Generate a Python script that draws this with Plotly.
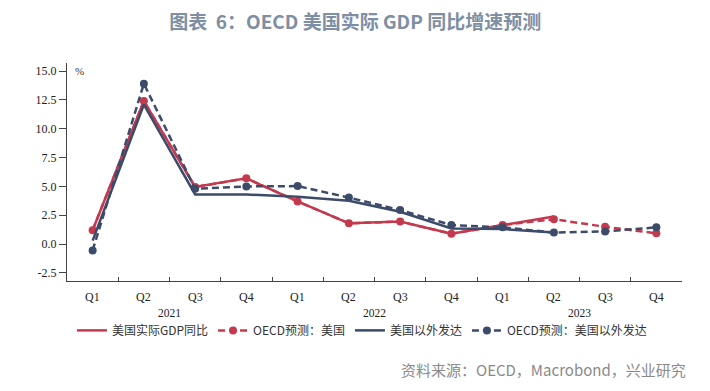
import plotly.graph_objects as go

quarters = ["Q1", "Q2", "Q3", "Q4"] * 3
years = ["2021", "2022", "2023"]
x_idx = list(range(12))

us_actual = [1.2, 12.4, 4.95, 5.7, 3.7, 1.8, 1.95, 0.9, 1.65, 2.4]
us_oecd = [1.2, 12.4, 4.95, 5.7, 3.7, 1.8, 1.95, 0.9, 1.65, 2.15, 1.5, 0.93]
exus_actual = [0.3, 12.1, 4.3, 4.3, 4.1, 3.75, 2.8, 1.35, 1.3, 1.0]
exus_oecd = [-0.55, 13.9, 4.8, 5.0, 5.03, 4.03, 2.95, 1.65, 1.45, 1.0, 1.1, 1.45]

y_ticks = [-2.5, 0.0, 2.5, 5.0, 7.5, 10.0, 12.5, 15.0]

RED = "#C33A4F"
NAVY = "#3C4B6A"

fig = go.Figure()
fig.add_trace(go.Scatter(x=x_idx[:len(us_oecd)], y=us_oecd, name="OECD预测：美国",
                         mode="lines+markers", line=dict(color=RED, width=2.5, dash="7px,4px"),
                         marker=dict(size=8, color=RED), legendrank=2))
fig.add_trace(go.Scatter(x=x_idx[:len(us_actual)], y=us_actual, name="美国实际GDP同比",
                         mode="lines", line=dict(color=RED, width=2.5), legendrank=1))
fig.add_trace(go.Scatter(x=x_idx[:len(exus_actual)], y=exus_actual, name="美国以外发达",
                         mode="lines", line=dict(color=NAVY, width=2.5), legendrank=3))
fig.add_trace(go.Scatter(x=x_idx[:len(exus_oecd)], y=exus_oecd, name="OECD预测：美国以外发达",
                         mode="lines+markers", line=dict(color=NAVY, width=2.5, dash="7px,4px"),
                         marker=dict(size=8, color=NAVY), legendrank=4))

annotations = []
for i, q in enumerate(quarters):
    annotations.append(dict(x=i, y=-0.072, xref="x", yref="paper", text=q, showarrow=False,
                            font=dict(family="Liberation Serif", size=12, color="#222"),
                            xanchor="center", yanchor="middle"))
for j, yr in enumerate(years):
    annotations.append(dict(x=4 * j + 1.5, y=-0.148, xref="x", yref="paper", text=yr, showarrow=False,
                            font=dict(family="Liberation Serif", size=11.5, color="#222"),
                            xanchor="center", yanchor="middle"))
annotations.append(dict(x=0.01, y=1.0, xref="paper", yref="paper", text="%", showarrow=False,
                        font=dict(family="Liberation Serif", size=11, color="#333"),
                        xanchor="left", yanchor="top"))
annotations.append(dict(x=1.01, y=-0.408, xref="paper", yref="paper",
                        text="资料来源：OECD，Macrobond，兴业研究", showarrow=False,
                        xanchor="right", yanchor="middle",
                        font=dict(family="Noto Sans CJK SC", size=15, color="#8A8A8A")))

fig.update_layout(
    width=710, height=391,
    paper_bgcolor="white", plot_bgcolor="white",
    margin=dict(l=59, r=36, t=55, b=118),
    title=dict(text="<b>图表  6：OECD 美国实际 GDP 同比增速预测</b>", x=0.489, xanchor="center",
               y=0.963, yanchor="middle",
               font=dict(family="Noto Sans CJK SC", size=19, color="#7E8EA3")),
    xaxis=dict(range=[-0.5, 11.5], showgrid=False, zeroline=False,
               tickvals=[i + 0.5 for i in range(-1, 12)], ticktext=[""] * 13,
               ticks="inside", ticklen=4, tickcolor="#444", showline=True, linecolor="#444",
               linewidth=1),
    yaxis=dict(range=[-3.2, 15.7], tickvals=y_ticks, ticktext=[f"{v:.1f}" for v in y_ticks],
               showgrid=False, zeroline=False, showline=True, linecolor="#444", linewidth=1,
               ticks="outside", ticklen=7, tickcolor="#444",
               tickfont=dict(family="Liberation Serif", size=12, color="#222")),
    legend=dict(orientation="h", x=0.008, y=-0.16, xanchor="left", yanchor="top",
                font=dict(family="Noto Sans CJK SC", size=12, color="#333"),
                itemwidth=30, tracegroupgap=0, traceorder="normal"),
    annotations=annotations,
)

fig.write_html("out.html")
